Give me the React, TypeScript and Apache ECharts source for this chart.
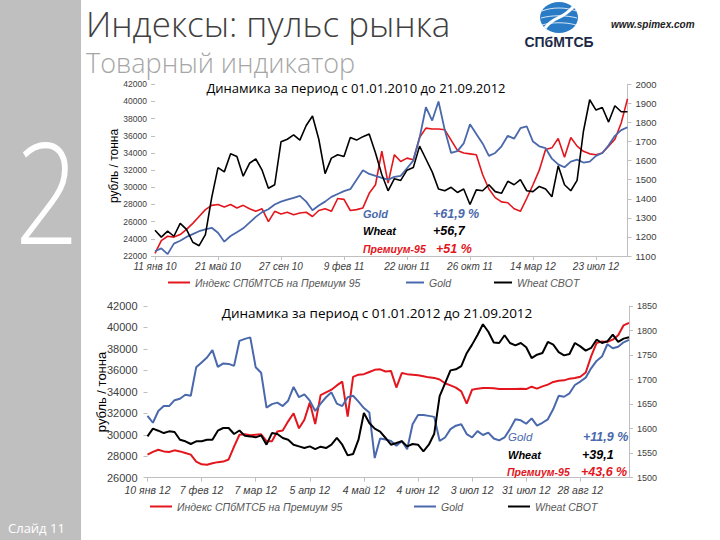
import React, { useEffect, useRef } from 'react';
import * as echarts from 'echarts';

// ---------- Chart 1: 01.01.2010 – 21.09.2012 ----------
const x1Labels = ['11 янв 10', '21 май 10', '27 сен 10', '9 фев 11', '22 июн 11', '26 окт 11', '14 мар 12', '23 июл 12'];
const premium1 = [
  22300, 23800, 24300, 24200, 24500, 25100, 25800, 26600, 27400, 27900,
  28000, 27700, 28000, 27600, 27900, 27500, 27200, 27500, 26000, 27200,
  26900, 27100, 26800, 27000, 27100, 26600, 27300, 27500, 27200, 28700,
  28600, 27300, 27400, 27600, 29300, 30300, 34200, 30500, 33800, 33000,
  33400, 33200, 35800, 36900, 36800, 36800, 36700, 35500, 34300, 34000,
  33900, 33800, 31500, 29800, 28800, 28300, 28200, 27500, 27200, 28700,
  30300, 32000, 34400, 34600, 35700, 33500, 35800, 34800, 34200, 33900,
  33800, 34000, 34800, 35600, 37500, 40300,
];
const gold1 = [
  1125, 1140, 1110, 1165, 1180, 1200, 1215, 1230, 1240, 1248,
  1222, 1175, 1205, 1225, 1245, 1275, 1305, 1330, 1345, 1370,
  1385, 1395, 1405, 1415, 1385, 1340, 1365, 1385, 1410, 1425,
  1440, 1450, 1500, 1550, 1530, 1520, 1510, 1500, 1515, 1520,
  1560, 1600, 1720, 1880, 1810, 1910, 1760, 1640, 1650, 1690,
  1790, 1740, 1690, 1625, 1640, 1675, 1730, 1715, 1770, 1780,
  1700, 1675, 1665, 1610, 1580, 1565, 1595, 1605, 1590, 1595,
  1625, 1640, 1680, 1730, 1760, 1775,
];
const wheat1 = [
  25000, 24200, 24900, 24300, 25800, 25100, 23600, 23200, 24500, 28800,
  32300, 31800, 33900, 33600, 31300, 32800, 33300, 32000, 29900, 30300,
  35300, 35600, 36100, 35500, 37200, 38300, 35600, 31600, 33400, 33800,
  33600, 35800, 35500, 35900, 36200, 34000, 31500, 29600, 31000, 30800,
  32000, 32300, 34800, 33300, 31800, 29800, 29600, 30000, 29400, 29800,
  28000, 29700, 29600, 30300, 29500, 29300, 30700, 30300, 30900, 29600,
  29500, 30100, 29800, 28900, 32500, 30300, 29600, 30800, 36500, 40200,
  39000, 39300, 37600, 39500, 38800, 38800,
];

// ---------- Chart 2: 01.01.2012 – 21.09.2012 ----------
const x2Labels = ['10 янв 12', '7 фев 12', '7 мар 12', '5 апр 12', '4 май 12', '4 июн 12', '3 июл 12', '31 июл 12', '28 авг 12'];
const premium2 = [
  28150, 28400, 28600, 28450, 28400, 28550, 28450, 28300, 28150, 27500,
  27250, 27200, 27350, 27450, 27500, 27700, 28900, 30000, 30050, 29950,
  30000, 30050, 29400, 29400, 30300, 30400, 31250, 32000, 30600, 31400,
  33000, 31000, 33700, 33950, 34200, 34600, 34950, 31700, 35400, 35600,
  35650, 35850, 36050, 36100, 35900, 35950, 34400, 35750, 35650, 35600,
  35550, 35450, 35350, 35300, 35150, 34800, 34600, 34400, 34050, 32900,
  34200, 34300, 34350, 34350, 34330, 34260, 34260, 34260, 34260, 34300,
  34260, 34480, 34300, 34510, 34670, 34920, 35040, 35070, 35230, 35290,
  35410, 35800, 37300, 38550, 38700, 38650, 38860, 39270, 40200, 40420,
];
const gold2 = [
  1626, 1612, 1636, 1646, 1646, 1658, 1661, 1669, 1667, 1725,
  1735, 1745, 1760, 1726, 1733, 1732, 1728, 1779, 1783, 1786,
  1725, 1714, 1643, 1650, 1653, 1646, 1657, 1685, 1664, 1670,
  1657, 1636, 1651, 1664, 1674, 1651, 1646, 1664, 1667, 1655,
  1642, 1633, 1540, 1580, 1578, 1575, 1565, 1575, 1558, 1609,
  1628, 1628, 1626, 1624, 1575, 1582, 1599, 1606, 1609, 1589,
  1582, 1595, 1587, 1592, 1580, 1576, 1582, 1599, 1619, 1617,
  1610, 1621, 1606, 1612, 1619, 1640, 1667, 1665, 1672, 1689,
  1696, 1704, 1723, 1738, 1747, 1772, 1764, 1767, 1776, 1781,
];
const wheat2 = [
  29850, 30570, 30380, 30160, 30320, 30260, 29540, 29390, 29140, 29390,
  29390, 29540, 29540, 30380, 30630, 30630, 30070, 30400, 29900, 29850,
  29760, 29950, 29075, 30160, 30070, 29700, 29540, 29075, 28920, 28765,
  28920, 28670, 28890, 28765, 29075, 29700, 29075, 28080, 28200, 29540,
  32030, 31100, 30570, 30300, 29700, 29075, 29230, 29390, 28920, 29140,
  29075, 28450, 29075, 30100, 33600, 34800, 36000, 36100, 36400, 37600,
  38400, 39300, 40300, 39600, 38600, 38550, 39270, 38550, 38330, 38550,
  38150, 37150, 37460, 37620, 38650, 38400, 37710, 37400, 37530, 38550,
  38240, 37840, 38090, 38860, 38550, 38710, 39330, 38650, 38960, 39080,
];

const SERIES_PREMIUM = 'Индекс СПбМТСБ на Премиум 95';
const SERIES_GOLD = 'Gold';
const SERIES_WHEAT = 'Wheat CBOT';

const RED = '#E3161D';
const BLUE = '#4A68AC';
const BLACK = '#000000';
const AXIS_GREY = '#BFBFBF';
const LABEL = '#404040';

function catAxis(grid: number, n: number, labels: string[], fontSize: number, margin: number) {
  return {
    type: 'category',
    gridIndex: grid,
    boundaryGap: false,
    data: Array.from({ length: n }, (_, i) => String(i)),
    axisLine: { lineStyle: { color: AXIS_GREY, width: 1 } },
    axisTick: { interval: 9, length: 4, lineStyle: { color: AXIS_GREY } },
    axisLabel: {
      interval: 9,
      margin,
      fontSize,
      fontStyle: 'italic',
      color: LABEL,
      fontFamily: 'Arial',
      formatter: (_v: string, idx: number) => (idx % 10 === 0 && labels[idx / 10]) || '',
    },
    splitLine: { show: false },
  };
}

function valAxis(grid: number, pos: 'left' | 'right', min: number, max: number, step: number, fontSize: number, showLine: boolean, margin: number) {
  return {
    type: 'value',
    gridIndex: grid,
    position: pos,
    min,
    max,
    interval: step,
    axisLine: { show: showLine, lineStyle: { color: AXIS_GREY } },
    axisTick: { show: true, length: 4, lineStyle: { color: AXIS_GREY } },
    axisLabel: { fontSize, color: LABEL, margin, fontFamily: 'Arial', formatter: (v: number) => String(v) },
    splitLine: { show: false },
  };
}

function line(name: string, x: number, y: number, data: number[], color: string, width: number, z: number) {
  return {
    type: 'line',
    name,
    xAxisIndex: x,
    yAxisIndex: y,
    data,
    symbol: 'none',
    showSymbol: false,
    color,
    itemStyle: { color },
    lineStyle: { color, width },
    z,
  };
}

function legendItem(name: string, left: number, top: number, w: number) {
  return {
    left,
    top,
    padding: 0,
    data: [name],
    icon: 'rect',
    itemWidth: w,
    itemHeight: 2,
    selectedMode: false,
    textStyle: { fontSize: 10.5, fontStyle: 'italic', color: '#595959', fontFamily: 'Arial' },
  };
}

function txt(text: string, x: number, y: number, size: number, color: string, opts: any = {}) {
  return {
    type: 'text',
    x,
    y,
    z: 10,
    ...(opts.el || {}),
    style: {
      text,
      fill: color,
      fontSize: size,
      fontFamily: opts.family || 'Arial',
      fontWeight: opts.weight || 'normal',
      fontStyle: opts.style || 'normal',
      align: opts.align || 'left',
      verticalAlign: 'middle',
    },
  };
}

export default function App() {
  const ref = useRef<HTMLDivElement>(null);
  useEffect(() => {
    const chart = echarts.init(ref.current!, null, { renderer: 'svg' });
    const option: any = {
      animation: false,
      backgroundColor: '#ffffff',
      textStyle: { fontFamily: 'Arial' },
      grid: [
        { left: 155, top: 84.3, width: 472.5, height: 171.7 },
        { left: 147.5, top: 306, width: 481.5, height: 171.7 },
      ],
      xAxis: [
        catAxis(0, premium1.length, x1Labels, 10, 5),
        catAxis(1, premium2.length, x2Labels, 10.5, 7),
      ],
      yAxis: [
        valAxis(0, 'left', 22000, 42000, 2000, 8.5, false, 8),
        valAxis(0, 'right', 1100, 2000, 100, 9.5, true, 8),
        valAxis(1, 'left', 26000, 42000, 2000, 11, false, 10),
        valAxis(1, 'right', 1500, 1850, 50, 9, true, 8),
      ],
      legend: [
        legendItem(SERIES_PREMIUM, 168, 277, 22),
        legendItem(SERIES_GOLD, 406, 277, 18),
        legendItem(SERIES_WHEAT, 494, 277, 18),
        legendItem(SERIES_PREMIUM, 150, 501, 22),
        legendItem(SERIES_GOLD, 414, 501, 22),
        legendItem(SERIES_WHEAT, 508, 501, 22),
      ],
      series: [
        line(SERIES_PREMIUM, 0, 0, premium1, RED, 1.6, 2),
        line(SERIES_GOLD, 0, 1, gold1, BLUE, 1.8, 3),
        line(SERIES_WHEAT, 0, 0, wheat1, BLACK, 1.6, 4),
        line(SERIES_PREMIUM, 1, 2, premium2, RED, 2, 2),
        line(SERIES_GOLD, 1, 3, gold2, BLUE, 2, 3),
        line(SERIES_WHEAT, 1, 2, wheat2, BLACK, 2, 4),
      ],
      graphic: [
        { type: 'rect', shape: { x: 0, y: 0, width: 81, height: 540 }, style: { fill: '#BFBFBF' }, z: 0 },
        txt('2', 47, 190, 140, '#ffffff', { family: 'Open Sans', weight: 300, align: 'center', el: { scaleX: 0.8 } }),
        txt('Слайд 11', 8, 528, 13, '#ffffff', { family: 'Open Sans' }),
        txt('Индексы: пульс рынка', 86, 23, 35, '#404040', { family: 'Open Sans', weight: 300 }),
        txt('Товарный индикатор', 86, 62, 27, '#A6A6A6', { family: 'Open Sans', weight: 300 }),
        // logo
        { type: 'ellipse', shape: { cx: 559, cy: 17.5, rx: 19, ry: 15.5 }, style: { fill: '#2A7BC6' }, z: 10 },
        { type: 'bezierCurve', shape: { x1: 542, y1: 11, x2: 576, y2: 11, cpx1: 552, cpy1: 7, cpx2: 566, cpy2: 7 }, style: { stroke: '#ffffff', lineWidth: 1, fill: 'none', opacity: 0.8 }, z: 11 },
        { type: 'bezierCurve', shape: { x1: 541, y1: 18, x2: 577, y2: 18, cpx1: 552, cpy1: 15, cpx2: 566, cpy2: 15 }, style: { stroke: '#ffffff', lineWidth: 1, fill: 'none', opacity: 0.8 }, z: 11 },
        { type: 'bezierCurve', shape: { x1: 542, y1: 25, x2: 576, y2: 25, cpx1: 552, cpy1: 22, cpx2: 566, cpy2: 22 }, style: { stroke: '#ffffff', lineWidth: 1, fill: 'none', opacity: 0.8 }, z: 11 },
        { type: 'bezierCurve', shape: { x1: 545, y1: 28, x2: 574, y2: 6, cpx1: 556, cpy1: 14, cpx2: 560, cpy2: 22 }, style: { stroke: '#ffffff', lineWidth: 3, fill: 'none' }, z: 12 },
        txt('СПбМТСБ', 559, 42, 14, '#1B2A48', { weight: 'bold', align: 'center' }),
        txt('www.spimex.com', 611, 24, 10, '#222222', { weight: 'bold', style: 'italic' }),
        // chart titles
        txt('Динамика за период с 01.01.2010 до 21.09.2012', 356, 88, 13, '#000000', { family: 'Open Sans', align: 'center' }),
        txt('Динамика за период с 01.01.2012 до 21.09.2012', 377, 313, 13.5, '#000000', { family: 'Open Sans', align: 'center' }),
        // y-axis names
        txt('рубль / тонна', 114, 166, 12, '#000000', { align: 'center', el: { rotation: Math.PI / 2 } }),
        txt('рубль / тонна', 101, 392, 13, '#000000', { align: 'center', el: { rotation: Math.PI / 2 } }),
        // chart 1 annotations
        txt('Gold', 363, 214, 11, BLUE, { weight: 'bold', style: 'italic' }),
        txt('+61,9 %', 433, 214, 12.5, BLUE, { weight: 'bold', style: 'italic' }),
        txt('Wheat', 363, 231, 11, BLACK, { weight: 'bold', style: 'italic' }),
        txt('+56,7', 433, 231, 12.5, BLACK, { weight: 'bold', style: 'italic' }),
        txt('Премиум-95', 363, 249, 10.5, RED, { weight: 'bold', style: 'italic' }),
        txt('+51 %', 436, 249, 12.5, RED, { weight: 'bold', style: 'italic' }),
        // chart 2 annotations
        txt('Gold', 508, 437, 11.5, BLUE, { style: 'italic' }),
        txt('+11,9 %', 583, 437, 12.5, BLUE, { weight: 'bold', style: 'italic' }),
        txt('Wheat', 508, 455, 11, BLACK, { weight: 'bold', style: 'italic' }),
        txt('+39,1', 582, 455, 12.5, BLACK, { weight: 'bold', style: 'italic' }),
        txt('Премиум-95', 507, 472, 10.5, RED, { weight: 'bold', style: 'italic' }),
        txt('+43,6 %', 581, 472, 12.5, RED, { weight: 'bold', style: 'italic' }),
      ],
    };
    chart.setOption(option);
    return () => chart.dispose();
  }, []);
  return (
    <div
      ref={ref}
      style={{ position: 'absolute', left: 0, top: 0, width: 720, height: 540, background: '#ffffff' }}
    />
  );
}
